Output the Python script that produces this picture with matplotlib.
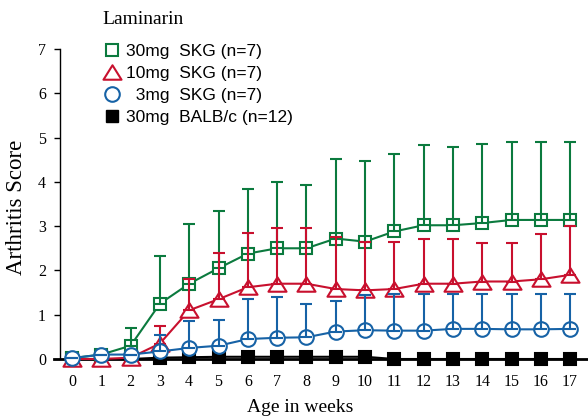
import numpy as np
import matplotlib
matplotlib.use('Agg')
import matplotlib.pyplot as plt
from matplotlib.lines import Line2D
from matplotlib.path import Path

# weeks of age
weeks = np.arange(0, 18)

# 30mg SKG (n=7) - mean and top of error bar
skg30_mean = [0.02, 0.1, 0.3, 1.25, 1.7, 2.05, 2.38, 2.5, 2.5, 2.72, 2.65, 2.88, 3.02, 3.02, 3.07, 3.14, 3.14, 3.14]
skg30_top = [0.02, 0.1, 0.7, 2.32, 3.05, 3.35, 3.85, 4.0, 3.93, 4.51, 4.48, 4.63, 4.83, 4.79, 4.86, 4.9, 4.9, 4.9]

# 10mg SKG (n=7)
skg10_mean = [0.0, 0.0, 0.03, 0.35, 1.1, 1.35, 1.62, 1.7, 1.7, 1.58, 1.55, 1.58, 1.7, 1.7, 1.75, 1.75, 1.8, 1.9]
skg10_top = [0.0, 0.0, 0.03, 0.75, 1.8, 2.4, 2.85, 2.95, 2.95, 2.76, 2.64, 2.64, 2.72, 2.72, 2.63, 2.63, 2.83, 3.0]

# 3mg SKG (n=7)
skg3_mean = [0.02, 0.1, 0.1, 0.17, 0.25, 0.3, 0.45, 0.48, 0.49, 0.62, 0.65, 0.64, 0.64, 0.68, 0.68, 0.67, 0.67, 0.68]
skg3_top = [0.02, 0.1, 0.1, 0.55, 0.86, 0.88, 1.35, 1.4, 1.24, 1.31, 1.45, 1.47, 1.47, 1.47, 1.47, 1.47, 1.47, 1.47]

# 30mg BALB/c (n=12)
balb_mean = [0.0, 0.0, 0.0, 0.03, 0.04, 0.05, 0.05, 0.05, 0.05, 0.05, 0.05, 0.0, 0.0, 0.0, 0.0, 0.0, 0.0, 0.0]
balb_top = [0.0, 0.0, 0.0, 0.03, 0.04, 0.05, 0.07, 0.08, 0.08, 0.08, 0.08, 0.0, 0.0, 0.0, 0.0, 0.0, 0.0, 0.0]

labels = ['30mg  SKG (n=7)', '10mg  SKG (n=7)', '  3mg  SKG (n=7)', '30mg  BALB/c (n=12)']

green = '#0b7a3e'
red = '#c8102e'
blue = '#1662a6'

# wide, flat triangle
tri = Path([(0, 0.8), (-1, -0.8), (1, -0.8), (0, 0.8)],
           [Path.MOVETO, Path.LINETO, Path.LINETO, Path.CLOSEPOLY])

fig = plt.figure(figsize=(5.88, 4.17), dpi=100)
ax = fig.add_axes([60 / 588, 58 / 417, 528 / 588, 310 / 417])

series = [
    (balb_mean, balb_top, 'k', 's', 9, 'k', 2),
    (skg30_mean, skg30_top, green, 's', 8.5, 'white', 3),
    (skg10_mean, skg10_top, red, tri, 13, 'white', 4),
    (skg3_mean, skg3_top, blue, 'o', 10.5, 'white', 5),
]

for mean, top, col, mk, ms, fc, z in series:
    mean = np.array(mean)
    err = np.array(top) - mean
    eb = ax.errorbar(weeks, mean, yerr=[np.zeros_like(err), err], color=col,
                     ecolor=col, elinewidth=1.5, capsize=4.3, capthick=1.5,
                     lw=1.5, marker=mk, ms=ms, mfc=fc, mec=col, mew=1.5,
                     zorder=z)
    for artist in eb.lines[0:1] + eb.lines[1] + eb.lines[2]:
        artist.set_clip_on(False)
        artist.set_zorder(z)

ax.set_xlim(-0.41, 17.61)
ax.set_ylim(0, 7)
ax.set_xticks(weeks)
ax.set_yticks(range(0, 8))

serif = 'Liberation Serif'
ax.tick_params(axis='x', length=0, pad=11, labelsize=11.5)
ax.tick_params(axis='y', length=4, width=1, pad=6, labelsize=11.5, direction='out')
for lab in ax.get_xticklabels() + ax.get_yticklabels():
    lab.set_fontfamily(serif)

ax.spines['top'].set_visible(False)
ax.spines['right'].set_visible(False)
ax.spines['left'].set_linewidth(1)
ax.spines['bottom'].set_linewidth(2)
ax.spines['bottom'].set_bounds(-0.6, 17.61)

ax.set_xlabel('Age in weeks', fontsize=14, fontfamily=serif, va='center')
ax.xaxis.set_label_coords(0.455, -0.158)
ax.set_ylabel('Arthritis Score', fontsize=16.5, fontfamily=serif, va='center')
ax.yaxis.set_label_coords(-0.083, 0.49)

fig.text(102 / 588, 1 - 19 / 417, 'Laminarin', fontsize=14, fontfamily=serif,
         va='center', ha='left')

handles = [
    Line2D([], [], ls='none', marker='s', ms=8.5, mfc='white', mec=green, mew=1.5),
    Line2D([], [], ls='none', marker=tri, ms=13, mfc='white', mec=red, mew=1.5),
    Line2D([], [], ls='none', marker='o', ms=10.5, mfc='white', mec=blue, mew=1.5),
    Line2D([], [], ls='none', marker='s', ms=9, mfc='k', mec='k'),
]
fig.legend(handles, labels, loc='upper left',
           bbox_to_anchor=(103 / 588, 1 - 44 / 417),
           frameon=False, borderpad=0, borderaxespad=0, handlelength=1.0,
           handletextpad=0.3, labelspacing=0.4,
           prop={'family': 'Liberation Sans', 'size': 12.5})

fig.savefig('out.png', dpi=100)
